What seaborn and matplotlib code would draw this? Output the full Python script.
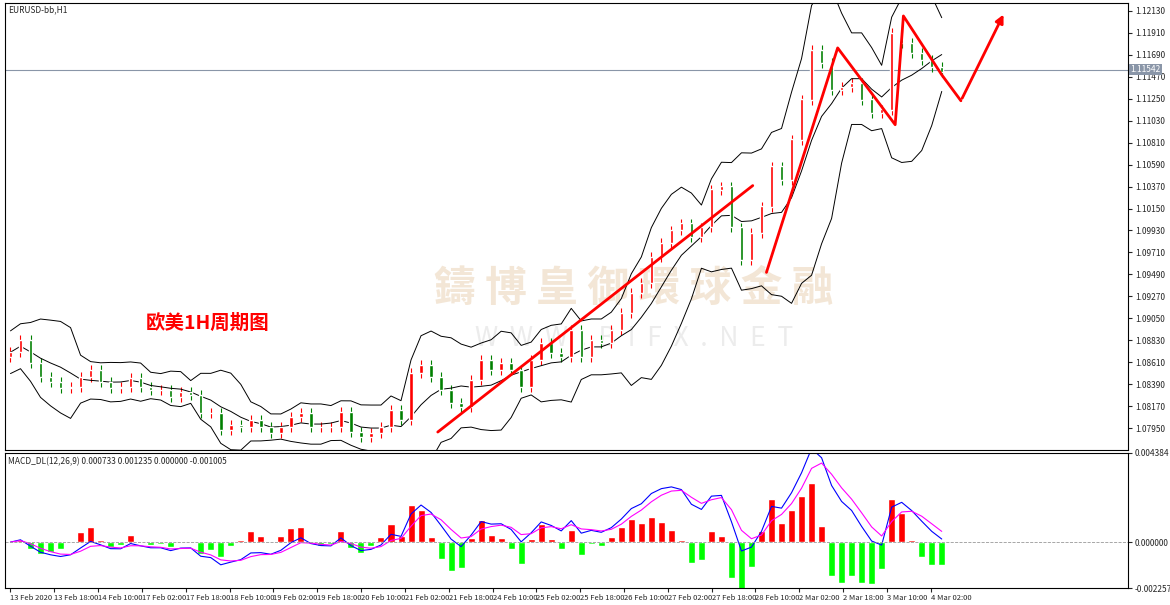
import numpy as np
import pandas as pd
import matplotlib
matplotlib.use("Agg")
import matplotlib.pyplot as plt
import seaborn as sns

sns.set_style("white")
plt.rcParams['font.family'] = ['Noto Sans CJK SC', 'DejaVu Sans']

# closing prices sampled along the chart (about every 3.6 hourly bars)
closes = [1.0871, 1.0883, 1.0860, 1.0846, 1.0841, 1.0835, 1.0836, 1.0846, 1.0853, 1.0841,
          1.0835, 1.0836, 1.0845, 1.0836, 1.0833, 1.0833, 1.0826, 1.0831, 1.0828, 1.0810,
          1.0810, 1.0793, 1.0798, 1.0796, 1.0803, 1.0796, 1.0790, 1.0796, 1.0806, 1.0810,
          1.0796, 1.0796, 1.0796, 1.0811, 1.0791, 1.0786, 1.0790, 1.0796, 1.0813, 1.0803,
          1.0850, 1.0858, 1.0846,
          1.0833, 1.0820, 1.0816, 1.0843, 1.0863, 1.0853, 1.0860, 1.0853, 1.0836, 1.0863,
          1.0880, 1.0870, 1.0866, 1.0893, 1.0866, 1.0883, 1.0880, 1.0893, 1.0910, 1.0930,
          1.0940, 1.0966, 1.0980, 1.0993, 1.1000, 1.0986, 1.0996, 1.1034, 1.1037, 1.0996,
          1.0963, 1.0990,
          1.1017, 1.1057, 1.1044, 1.1084, 1.1124, 1.1174, 1.1161, 1.1134, 1.1137, 1.1141,
          1.1124, 1.1111, 1.1114, 1.1191, 1.1181, 1.1171, 1.1164, 1.1157, 1.1152]
first_open = 1.0866
wick = 0.0005
total_bars = 341
tick_labels = ["13 Feb 2020", "13 Feb 18:00", "14 Feb 10:00", "17 Feb 02:00", "17 Feb 18:00",
               "18 Feb 10:00", "19 Feb 02:00", "19 Feb 18:00", "20 Feb 10:00", "21 Feb 02:00",
               "21 Feb 18:00", "24 Feb 10:00", "25 Feb 02:00", "25 Feb 18:00", "26 Feb 10:00",
               "27 Feb 02:00", "27 Feb 18:00", "28 Feb 10:00", "2 Mar 02:00", "2 Mar 18:00",
               "3 Mar 10:00", "4 Mar 02:00"]
price_ticks = [1.07950, 1.08170, 1.08390, 1.08610, 1.08830, 1.09050, 1.09270, 1.09490, 1.09710,
               1.09930, 1.10150, 1.10370, 1.10590, 1.10810, 1.11030, 1.11250, 1.11470, 1.11690,
               1.11910, 1.12130]
last_price = 1.11542
# hand-drawn red trend lines (bar index, price)
trend1_x = [156, 271]; trend1_p = [1.0791, 1.1038]
trend2_x = [276, 302, 323, 326, 340, 347, 363]
trend2_p = [1.0951, 1.1176, 1.1099, 1.1208, 1.1149, 1.1123, 1.1212]

c = np.array(closes)
n = len(c)
step = (total_bars - 1) / (n - 1)
xb = np.arange(n) * step
o = np.concatenate([[first_open], c[:-1]])
hi = np.maximum(o, c) + wick
lo = np.minimum(o, c) - wick
df = pd.DataFrame({"x": xb, "close": c})
mid = df["close"].rolling(6, min_periods=1).mean()
sd = df["close"].rolling(6, min_periods=2).std().fillna(0.0008)
up = mid + 2.3 * sd + 0.0003
dn = mid - 2.3 * sd - 0.0003
ema_f = df["close"].ewm(span=3).mean()
ema_s = df["close"].ewm(span=7).mean()
macd = ema_f - ema_s
sig = macd.ewm(span=3).mean()
hist = (macd - sig) * 3

LO, HI = 1.0773, 1.1221

fig = plt.figure(figsize=(11.7, 6.05), dpi=100)
fig.patch.set_facecolor("white")
ax = fig.add_axes([5/1170, 1-450/605, 1123/1170, 447/605])
ax2 = fig.add_axes([5/1170, 1-588/605, 1123/1170, 135/605], sharex=ax)

# watermark
ax.text(0.56, 0.36, "鑄 博 皇 御 環 球 金 融", transform=ax.transAxes, fontsize=30,
        color="#f3e6d6", ha="center", va="center", zorder=0, fontweight="bold")
ax.text(0.56, 0.25, "W  W  W  .  B  I  F  X  .  N  E  T", transform=ax.transAxes, fontsize=19,
        color="#ececec", ha="center", va="center", zorder=0)

colors = np.where(c >= o, "#ff0000", "#008000")
ax.vlines(xb, lo, hi, colors=colors, lw=0.8, zorder=2)
ax.bar(xb, np.abs(c - o) + 0.00003, bottom=np.minimum(o, c), width=step * 0.35,
       color=colors, zorder=3)
sns.lineplot(x=xb, y=up.values, ax=ax, color="black", lw=0.7, zorder=2)
sns.lineplot(x=xb, y=mid.values, ax=ax, color="black", lw=0.7, zorder=2)
sns.lineplot(x=xb, y=dn.values, ax=ax, color="black", lw=0.7, zorder=2)
ax.axhline(last_price, color="#8a96a8", lw=0.8, zorder=1)
ax.plot(trend1_x, trend1_p, color="red", lw=2, zorder=4)
ax.plot(trend2_x[:-1], trend2_p[:-1], color="red", lw=2, zorder=4)
ax.annotate("", xy=(trend2_x[-1], trend2_p[-1]), xytext=(trend2_x[-2], trend2_p[-2]),
            arrowprops=dict(arrowstyle="-|>", color="red", lw=2, mutation_scale=12), zorder=4)
ax.text(0.18, 0.27, "欧美1H周期图", transform=ax.transAxes, fontsize=14, color="red",
        fontweight="bold", ha="center")
ax.text(0.003, 0.995, "EURUSD-bb,H1", transform=ax.transAxes, fontsize=6, va="top")

ax.set_ylim(LO, HI)
ax.set_xlim(-2, 408)
ax.yaxis.tick_right()
ax.set_yticks(price_ticks)
ax.set_yticklabels([f"{t:.5f}" for t in price_ticks], fontsize=6)
ax.text(1.002, (last_price - LO) / (HI - LO), f"{last_price:.5f}",
        transform=ax.transAxes, fontsize=6, color="white", va="center",
        bbox=dict(boxstyle="square,pad=0.15", fc="#8a96a8", ec="none"))
ax.tick_params(axis="y", length=3, pad=2, right=True)
ax.tick_params(axis="x", bottom=False, labelbottom=False)

hcol = np.where(hist >= 0, "#ff0000", "#00ff00")
ax2.bar(xb, hist.values, width=step * 0.7, color=hcol)
sns.lineplot(x=xb, y=macd.values, ax=ax2, color="blue", lw=0.8)
sns.lineplot(x=xb, y=sig.values, ax=ax2, color="magenta", lw=0.8)
ax2.axhline(0, color="#999999", lw=0.6, ls="--")
ax2.set_ylim(-0.002257, 0.004384)
ax2.yaxis.tick_right()
ax2.set_yticks([-0.002257, 0.0, 0.004384])
ax2.set_yticklabels(["-0.002257", "0.000000", "0.004384"], fontsize=6)
ax2.tick_params(axis="y", length=3, pad=2, right=True)
ax2.set_xticks(np.arange(len(tick_labels)) * 16)
ax2.set_xticklabels(tick_labels, fontsize=5.5, ha="left")
ax2.tick_params(axis="x", length=3, pad=1, bottom=True)
ax2.text(0.003, 0.97, "MACD_DL(12,26,9) 0.000733 0.001235 0.000000 -0.001005",
         transform=ax2.transAxes, fontsize=6, va="top")
for a in (ax, ax2):
    for s in a.spines.values():
        s.set_color("black"); s.set_linewidth(0.8)
fig.savefig("out.png", dpi=100)
